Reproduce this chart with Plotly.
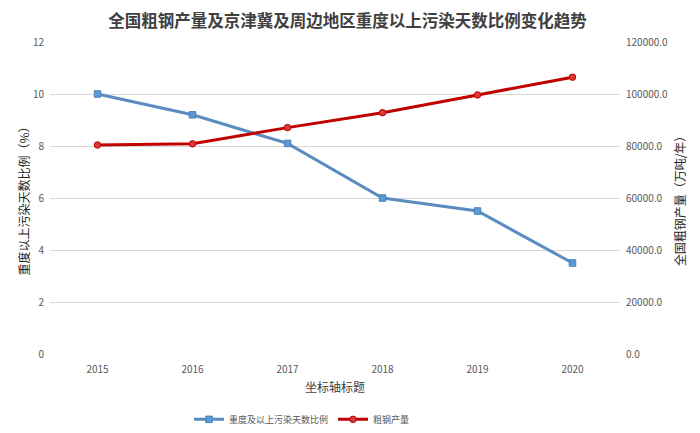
import plotly.graph_objects as go

years = ["2015", "2016", "2017", "2018", "2019", "2020"]
pollution_ratio = [10.0, 9.2, 8.1, 6.0, 5.5, 3.5]
steel_output = [80383, 80837, 87074, 92826, 99634, 106477]

font_cjk = "Noto Sans CJK SC"
grey = "#595959"

fig = go.Figure()

fig.add_trace(go.Scatter(
    x=years, y=pollution_ratio, name="重度及以上污染天数比例",
    mode="lines+markers",
    line=dict(color="#5A8CBF", width=3),
    marker=dict(symbol="square", size=6.5, color="#5B9BD5", line=dict(color="#4A80B5", width=1)),
    yaxis="y",
))

fig.add_trace(go.Scatter(
    x=years, y=steel_output, name="粗钢产量",
    mode="lines+markers",
    line=dict(color="#C00000", width=3),
    marker=dict(symbol="circle", size=6.5, color="#D63A3A", line=dict(color="#C00000", width=1)),
    yaxis="y2",
))

fig.update_layout(
    width=700, height=433,
    margin=dict(l=42, r=88, t=34, b=87, autoexpand=False),
    paper_bgcolor="white", plot_bgcolor="white",
    font=dict(family=font_cjk, color=grey, size=10),
    title=dict(text="<b>全国粗钢产量及京津冀及周边地区重度以上污染天数比例变化趋势</b>",
               x=0.485, xanchor="center", y=0.97, yanchor="middle",
               font=dict(size=16.5, color="#404040", family=font_cjk)),
    xaxis=dict(type="category", range=[-0.5, 5.5], showgrid=False, automargin=False,
               showline=False, ticks="outside", ticklen=6, tickcolor="white", zeroline=False,
               tickfont=dict(size=10, color=grey),
               title=dict(text="坐标轴标题", font=dict(size=12, color="#404040"), standoff=8)),
    yaxis=dict(range=[0, 12], dtick=2, showgrid=True, gridcolor="#D9D9D9", gridwidth=1,
               zeroline=False, showline=False, tickfont=dict(size=10, color=grey), automargin=False,
               ticklen=3, ticks="outside", tickcolor="white",
               title=dict(text="重度以上污染天数比例（%）", font=dict(size=12, color="#262626"), standoff=0)),
    yaxis2=dict(range=[0, 120000], dtick=20000, overlaying="y", side="right", automargin=False,
                showgrid=False, zeroline=False, showline=False, tickformat=".1f",
                tickfont=dict(size=10, color=grey), ticks="outside", ticklen=3, tickcolor="white",
                title=dict(text="全国粗钢产量（万吨/年）", font=dict(size=12, color="#262626"), standoff=9)),
    legend=dict(orientation="h", x=0.42, xanchor="center", xref="container",
                y=0.05, yanchor="middle", yref="container",
                font=dict(size=9, color=grey), itemwidth=30, tracegroupgap=0),
    showlegend=True,
)

fig.write_html("out.html")
